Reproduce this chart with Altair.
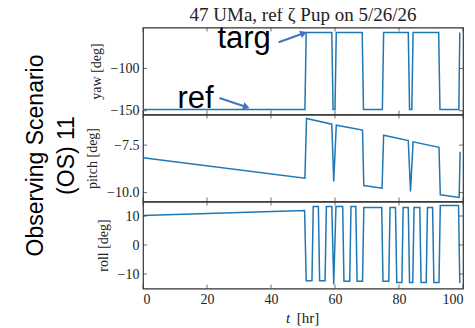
import altair as alt
import pandas as pd

# ---------------- data ----------------
yaw_t = [0, 50.6, 51.0, 59.0, 59.4, 60.0, 60.4, 68.5, 68.9, 74.8, 75.2,
         82.9, 83.3, 84.0, 84.4, 92.4, 92.8, 98.7, 99.0]
yaw_v = [-148.5, -148.5, -57.5, -57.5, -148.5, -148.5, -57.5, -57.5, -148.5,
         -148.5, -57.5, -57.5, -148.5, -148.5, -57.5, -57.5, -148.5, -148.5, -57.5]

pitch_t = [0, 50.6, 51.1, 59.0, 59.6, 60.4, 68.6, 69.0, 74.7, 75.2, 82.9,
           83.6, 84.4, 92.5, 92.9, 98.8, 99.1]
pitch_v = [-8.16, -9.24, -6.10, -6.40, -9.42, -6.45, -6.71, -9.63, -9.77,
           -6.98, -7.26, -9.94, -7.33, -7.62, -10.12, -10.26, -7.85]

roll_t = [0, 50.5, 51.0, 52.8, 53.2, 54.8, 55.2, 56.9, 57.3, 59.0, 59.6, 60.3,
          62.4, 62.8, 64.6, 65.0, 66.5, 66.9, 68.6, 69.0, 74.6, 75.0, 76.8,
          77.2, 78.9, 79.3, 80.9, 81.3, 82.9, 83.3, 84.3, 84.7, 86.5, 86.9,
          88.5, 88.9, 90.5, 90.9, 92.5, 92.9, 98.6, 99.0]
roll_v = [10.2, 11.9, -12.3, -12.3, 13.3, 13.3, -12.3, -12.3, 13.3, 13.3, -13.6, 13.3,
          13.3, -12.5, -12.5, 13.3, 13.3, -12.5, -12.5, 12.9, 12.9, -12.5, -12.5,
          12.9, 12.9, -12.9, -12.9, 12.9, 12.9, -12.9, -12.9, 12.9, 12.9, -12.9,
          -12.9, 12.9, 12.9, -12.9, -12.9, 13.6, 13.6, -13.1]

x_ticks = [0, 20, 40, 60, 80, 100]
yaw_ticks = [-150, -100]
pitch_ticks = [-10.0, -7.5]
roll_ticks = [-10, 0, 10]

yaw_domain = [-154.5, -51.5]
pitch_domain = [-10.47, -5.89]
roll_domain = [-15.0, 15.0]

ann_label = ["targ", "ref"]
ann_t = [31.6, 16.4]
ann_v = [-76.0, -147.0]

arrow_t0 = [42.4, 23.9]
arrow_v0 = [-68.9, -135.0]
arrow_t1 = [50.2, 32.3]
arrow_v1 = [-58.3, -145.6]
arrow_angle = [70, 108]

title_text = "47 UMa, ref ζ Pup on 5/26/26"
side_text = "Observing Scenario\n(OS) 11"

# ---------------- styling ----------------
W, H = 320, 87
SERIF = "Liberation Serif"
SANS = "Liberation Sans"
LINE = "#1f77b4"
ARROW = "#4472c4"
FRAME = "#333333"

xs = alt.Scale(domain=[0, 100], nice=False, zero=False)


def yscale(d):
    return alt.Scale(domain=d, nice=False, zero=False)


def inward_ticks(yvals, ys, yaxis, xaxis):
    yd = pd.DataFrame({"v": yvals})
    xd = pd.DataFrame({"v": x_ticks})
    out = []
    for xp in (2, W - 2):
        out.append(alt.Chart(yd).mark_tick(orient="horizontal", size=4, thickness=1, color=FRAME)
                   .encode(y=alt.Y("v:Q", scale=ys, axis=yaxis), x=alt.value(xp)))
    for yp in (2, H - 2):
        out.append(alt.Chart(xd).mark_tick(orient="vertical", size=4, thickness=1, color=FRAME)
                   .encode(x=alt.X("v:Q", scale=xs, axis=xaxis), y=alt.value(yp)))
    return out


def line_layer(t, v, ys, yaxis, xaxis):
    df = pd.DataFrame({"t": t, "v": v})
    return alt.Chart(df).mark_line(color=LINE, strokeWidth=1.5, clip=True).encode(
        x=alt.X("t:Q", scale=xs, axis=xaxis),
        y=alt.Y("v:Q", scale=ys, axis=yaxis),
    )


# --- yaw panel ---
ys_yaw = yscale(yaw_domain)
yaw_axis = alt.Axis(values=yaw_ticks, format="d", title="yaw [deg]")
yaw_line = line_layer(yaw_t, yaw_v, ys_yaw, yaw_axis, None)
ann_df = pd.DataFrame({"label": ann_label, "t": ann_t, "v": ann_v})
ann_text = alt.Chart(ann_df).mark_text(font=SANS, fontSize=31, color="black",
                                       align="center", baseline="alphabetic").encode(
    x=alt.X("t:Q", scale=xs, axis=None), y=alt.Y("v:Q", scale=ys_yaw, axis=yaw_axis), text="label:N")
arr_df = pd.DataFrame({"t0": arrow_t0, "v0": arrow_v0, "t1": arrow_t1, "v1": arrow_v1,
                       "ang": arrow_angle})
arr_shaft = alt.Chart(arr_df).mark_rule(color=ARROW, strokeWidth=2).encode(
    x=alt.X("t0:Q", scale=xs, axis=None), y=alt.Y("v0:Q", scale=ys_yaw, axis=yaw_axis),
    x2="t1:Q", y2="v1:Q")
arr_head = alt.Chart(arr_df).mark_point(shape="triangle-up", filled=True, size=60,
                                        color=ARROW, opacity=1).encode(
    x=alt.X("t1:Q", scale=xs, axis=None), y=alt.Y("v1:Q", scale=ys_yaw, axis=yaw_axis),
    angle=alt.Angle("ang:Q", scale=None))
yaw_panel = alt.layer(yaw_line, *inward_ticks(yaw_ticks, ys_yaw, yaw_axis, None),
                      ann_text, arr_shaft, arr_head).properties(
    width=W, height=H,
    title=alt.Title(title_text, font=SERIF, fontSize=19, fontWeight="normal",
                    color="#222", offset=-2, anchor="middle"))

# --- pitch panel ---
ys_pitch = yscale(pitch_domain)
pitch_axis = alt.Axis(values=pitch_ticks, format=".1f", title="pitch [deg]")
pitch_line = line_layer(pitch_t, pitch_v, ys_pitch, pitch_axis, None)
side = alt.Chart(pd.DataFrame({"s": [side_text]})).mark_text(
    angle=270, font=SANS, fontSize=23, lineBreak="\n", lineHeight=31,
    align="center", baseline="middle", color="black").encode(
    x=alt.value(-107), y=alt.value(41), text="s:N")
pitch_panel = alt.layer(pitch_line, *inward_ticks(pitch_ticks, ys_pitch, pitch_axis, None),
                        side).properties(width=W, height=H)

# --- roll panel ---
ys_roll = yscale(roll_domain)
roll_axis = alt.Axis(values=roll_ticks, format="d", title="roll [deg]")
x_axis = alt.Axis(values=x_ticks, format="d", title=None)
roll_line = line_layer(roll_t, roll_v, ys_roll, roll_axis, x_axis)
xtitle_t = alt.Chart(pd.DataFrame({"s": ["t"]})).mark_text(
    font=SERIF, fontSize=15, fontStyle="italic", color="#222",
    align="center", baseline="alphabetic").encode(x=alt.value(145), y=alt.value(121), text="s:N")
xtitle_hr = alt.Chart(pd.DataFrame({"s": ["[hr]"]})).mark_text(
    font=SERIF, fontSize=15, color="#222",
    align="center", baseline="alphabetic").encode(x=alt.value(165), y=alt.value(121), text="s:N")
roll_panel = alt.layer(roll_line, *inward_ticks(roll_ticks, ys_roll, roll_axis, x_axis),
                       xtitle_t, xtitle_hr).properties(width=W, height=H)

chart = alt.vconcat(yaw_panel, pitch_panel, roll_panel, spacing=0, bounds="flush").properties(
    padding={"left": 16, "top": -2.5, "right": 0, "bottom": 0},
    background="white",
).configure_view(stroke=FRAME, strokeWidth=1.2).configure_axis(
    labelFont=SERIF, labelFontSize=14, labelColor="#222", labelPadding=4,
    titleFont=SERIF, titleFontSize=14, titleFontWeight="normal", titleColor="#222",
    titlePadding=7, ticks=False, domain=False, grid=False
)

chart.save("out.html", embed_options={"renderer": "svg", "actions": False})
